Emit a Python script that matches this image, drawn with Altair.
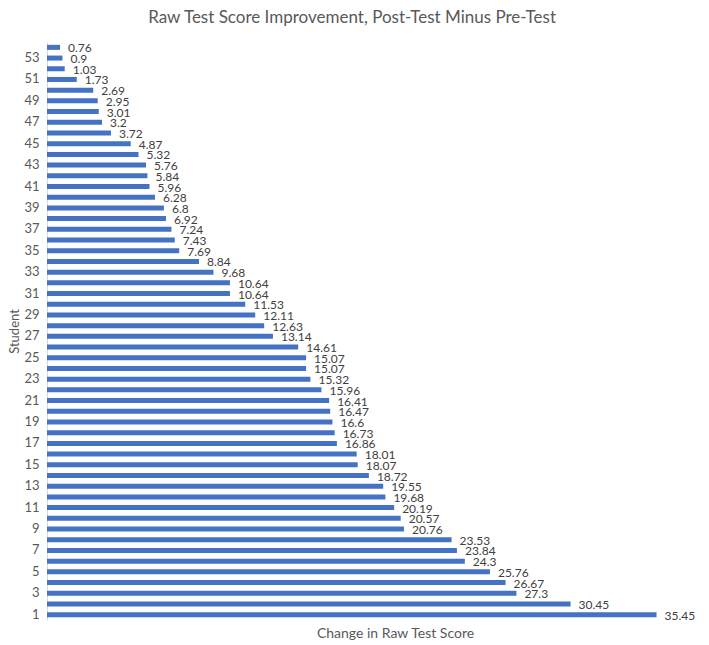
import altair as alt
import pandas as pd

students = list(range(1, 55))
scores = [35.45, 30.45, 27.3, 26.67, 25.76, 24.3, 23.84, 23.53, 20.76, 20.57,
          20.19, 19.68, 19.55, 18.72, 18.07, 18.01, 16.86, 16.73, 16.6, 16.47,
          16.41, 15.96, 15.32, 15.07, 15.07, 14.61, 13.14, 12.63, 12.11, 11.53,
          10.64, 10.64, 9.68, 8.84, 7.69, 7.43, 7.24, 6.92, 6.8, 6.28,
          5.96, 5.84, 5.76, 5.32, 4.87, 3.72, 3.2, 3.01, 2.95, 2.69,
          1.73, 1.03, 0.9, 0.76]

df = pd.DataFrame({"Student": students, "Score": scores})
df["Label"] = [f"{v:g}" for v in scores]

FONT = "Lato"

y = alt.Y("Student:O", sort="descending",
          scale=alt.Scale(paddingInner=0.0, paddingOuter=0.0),
          axis=alt.Axis(title="Student", labelExpr="datum.value % 2 == 1 ? datum.label : ''",
                        ticks=False, domainColor="#d9d9d9", labelColor="#595959",
                        labelFontSize=13, labelFont=FONT, titleFont=FONT,
                        titleFontSize=13, titleColor="#595959", titleFontWeight="normal",
                        labelPadding=8, titlePadding=2, labelAngle=0))
x = alt.X("Score:Q", scale=alt.Scale(domain=[0, 36], nice=False),
          axis=alt.Axis(title="Change in Raw Test Score", labels=False, ticks=False,
                        domain=False, grid=False, titleFont=FONT, titleFontSize=14,
                        titleColor="#595959", titleFontWeight="normal", titlePadding=6,
                        titleX=348, titleAlign="center"))

bars = alt.Chart(df).mark_bar(color="#4472C4", size=5).encode(x=x, y=y)
labels = alt.Chart(df).mark_text(align="left", baseline="middle", dx=8, dy=1,
                                 font=FONT, fontSize=12, color="#404040").encode(
    x="Score:Q", y=alt.Y("Student:O", sort="descending"), text="Label:N")

chart = (bars + labels).properties(
    width=619, height=578,
    padding={"left": 0, "top": 0, "right": 0, "bottom": 0},
    title=alt.TitleParams("Raw Test Score Improvement, Post-Test Minus Pre-Test",
                          font=FONT, fontSize=17, fontWeight="normal", color="#595959",
                          anchor="middle", frame="bounds", offset=14),
).configure_view(stroke=None)

chart.save("out.html", embed_options={"renderer": "svg", "actions": False})
